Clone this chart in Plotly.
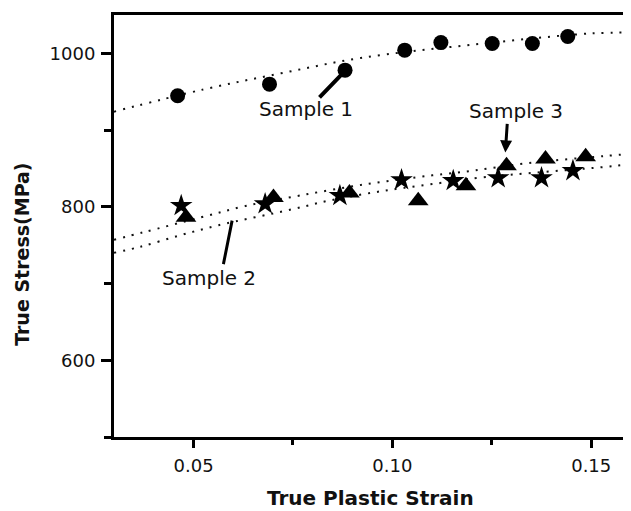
import plotly.graph_objects as go

# Sample 1 (circles)
s1_x = [0.0460, 0.0691, 0.0881, 0.1031, 0.1122, 0.1251, 0.1352, 0.1441]
s1_y = [944.7, 959.9, 978.1, 1004.2, 1014.0, 1012.8, 1012.8, 1021.9]
# Sample 2 (stars)
s2_x = [0.0469, 0.0680, 0.0868, 0.1023, 0.1153, 0.1266, 0.1375, 0.1454]
s2_y = [801.5, 803.7, 814.5, 835.0, 834.0, 837.6, 837.6, 847.0]
# Sample 3 (triangles)
s3_x = [0.0481, 0.0701, 0.0892, 0.1065, 0.1185, 0.1287, 0.1385, 0.1486]
s3_y = [786.3, 812.3, 818.0, 808.0, 827.6, 853.6, 862.3, 865.3]

# dotted fit curves
fit1_x = [0.030, 0.0525, 0.072, 0.092, 0.1195, 0.150, 0.160]
fit1_y = [924, 953, 974, 994, 1011, 1026, 1027]
fitA_x = [0.030, 0.0375, 0.0517, 0.063, 0.077, 0.094, 0.110, 0.120, 0.134, 0.153, 0.160]
fitA_y = [757, 767, 786, 801, 815, 830, 841, 847, 857, 866, 869]
fitB_x = [0.030, 0.0367, 0.0467, 0.0563, 0.075, 0.084, 0.098, 0.112, 0.122, 0.1554, 0.160]
fitB_y = [740, 748, 763, 776, 797, 808, 821, 831, 838, 853, 856]

x_ticks = [0.05, 0.10, 0.15]
x_ticklabels = ["0.05", "0.10", "0.15"]
y_ticks = [600, 800, 1000]
y_ticklabels = ["600", "800", "1000"]

FONT = "DejaVu Sans"
fig = go.Figure()

dot = dict(color="#111", width=2, dash="2px,7px")
for fx, fy in [(fit1_x, fit1_y), (fitA_x, fitA_y), (fitB_x, fitB_y)]:
    fig.add_trace(go.Scatter(x=fx, y=fy, mode="lines", line=dict(shape="spline", smoothing=1.0, **dot),
                             hoverinfo="skip", showlegend=False))

fig.add_trace(go.Scatter(x=s1_x, y=s1_y, mode="markers", name="Sample 1",
                         marker=dict(symbol="circle", size=15, color="black"), showlegend=False))
fig.add_trace(go.Scatter(x=s3_x, y=s3_y, mode="markers", name="Sample 3",
                         marker=dict(symbol="triangle-up", size=18, color="black"), showlegend=False))
fig.add_trace(go.Scatter(x=s2_x, y=s2_y, mode="markers", name="Sample 2",
                         marker=dict(symbol="star", size=17, color="black"), showlegend=False))

ann_font = dict(family=FONT, size=20, color="#111")
# labels
fig.add_annotation(x=0.0783, y=927.8, text="Sample 1", showarrow=False, font=ann_font)
fig.add_annotation(x=0.1312, y=925.2, text="Sample 3", showarrow=False, font=ann_font)
fig.add_annotation(x=0.0540, y=707.4, text="Sample 2", showarrow=False, font=ann_font)
# arrows
fig.add_annotation(x=0.0881, y=977.2, ax=-27, ay=28, text="", showarrow=True,
                   arrowhead=0, arrowwidth=4, arrowcolor="black", standoff=0)
fig.add_annotation(x=0.1284, y=870.9, ax=2, ay=-30, text="", showarrow=True,
                   arrowhead=2, arrowsize=0.8, arrowwidth=3, arrowcolor="black", standoff=0)
fig.add_annotation(x=0.0597, y=782.0, ax=-9, ay=45, text="", showarrow=True,
                   arrowhead=0, arrowwidth=3, arrowcolor="black", standoff=0)

# axis titles
fig.add_annotation(xref="paper", yref="paper", x=0.4957, y=-0.145, xanchor="center", yanchor="middle",
                   text="<b>True Plastic Strain</b>",
                   showarrow=False, font=dict(family=FONT, size=20, color="#111"))
fig.add_annotation(xref="paper", yref="paper", x=-0.1768, y=0.433, xanchor="center", yanchor="middle",
                   text="<b>True Stress(MPa)</b>",
                   textangle=-90, showarrow=False, font=dict(family=FONT, size=19, color="#111"))

fig.update_xaxes(range=[0.03, 0.16], tickvals=x_ticks, ticktext=x_ticklabels, ticks="outside",
                 ticklen=8, tickwidth=3, tickcolor="black", showline=True, linewidth=3, linecolor="black",
                 mirror=True, showgrid=False, zeroline=False, ticklabelstandoff=2,
                 tickfont=dict(family=FONT, size=18, color="#111"),
                 minor=dict(tickvals=[0.075, 0.125], ticks="outside", ticklen=5, tickwidth=3, tickcolor="black"))
fig.update_yaxes(range=[500, 1050], tickvals=y_ticks, ticktext=y_ticklabels, ticks="outside",
                 ticklen=10, tickwidth=3, tickcolor="black", showline=True, linewidth=3, linecolor="black",
                 showgrid=False, zeroline=False, ticklabelstandoff=2,
                 tickfont=dict(family=FONT, size=18, color="#111"),
                 minor=dict(tickvals=[500, 700, 900], ticks="outside", ticklen=7, tickwidth=3, tickcolor="black"))

# page body has an 8px margin, so the figure is sized to fill the remaining window
fig.update_layout(width=623, height=503, margin=dict(l=105.5, r=0, t=7, b=74.3),
                  plot_bgcolor="white", paper_bgcolor="white")
fig.write_html("out.html")
